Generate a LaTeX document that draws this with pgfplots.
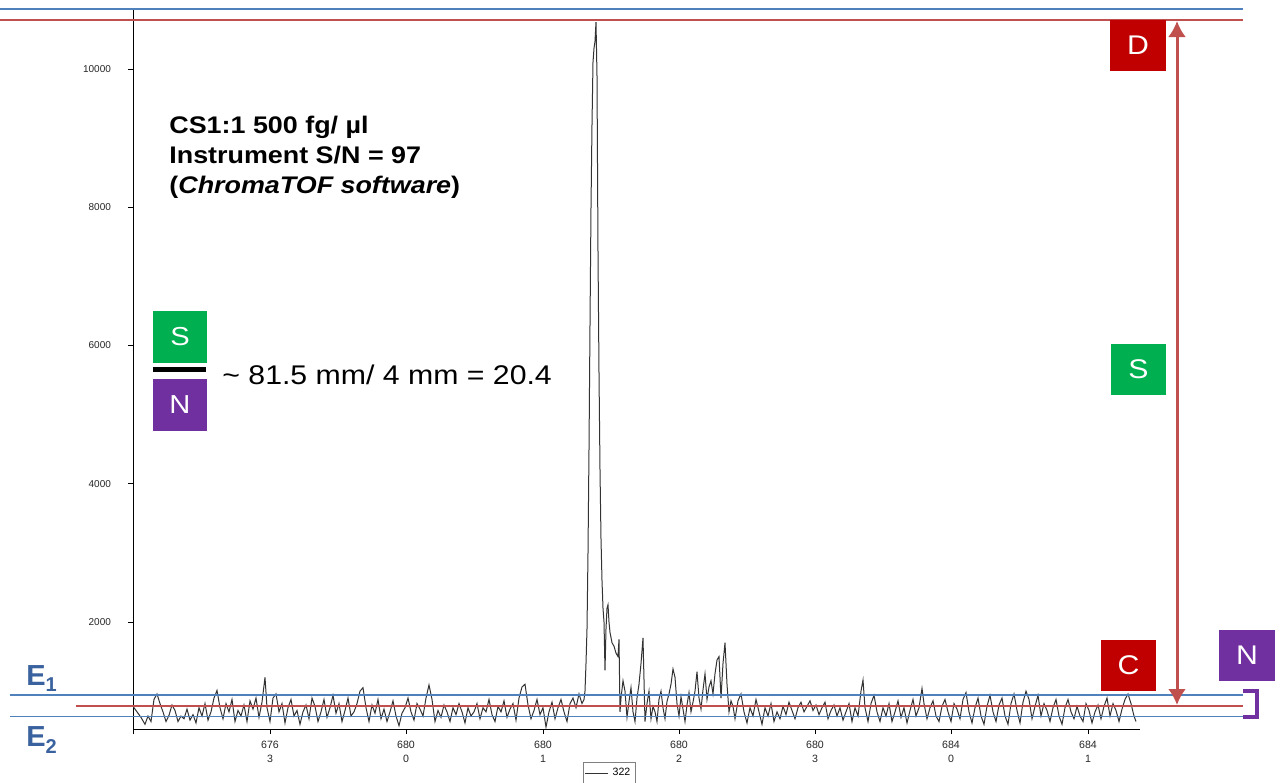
\documentclass[border=0pt]{standalone}
\usepackage{fontspec}
\setmainfont{Liberation Sans}
\newfontfamily\wide[FakeStretch=1.12]{Liberation Sans}
\usepackage{pgfplots}
\pgfplotsset{compat=1.18}
\usetikzlibrary{arrows.meta}
\definecolor{lblue}{HTML}{4F81BD}
\definecolor{lred}{HTML}{C0504D}
\definecolor{dred}{HTML}{C00000}
\definecolor{sgreen}{HTML}{00B050}
\definecolor{npurp}{HTML}{7030A0}
\definecolor{elab}{RGB}{58,98,158}
\begin{document}
\begin{tikzpicture}
\useasboundingbox (0,0) rectangle (640pt,-391pt);
\begin{axis}[
 at={(66.5pt,-364.5pt)}, anchor=south west,
 scale only axis, width=503.5pt, height=359.5pt,
 xmin=133, xmax=1140, ymin=452, ymax=10854,
 scaled y ticks=false, scaled x ticks=false,
 axis lines=left, axis line style={-, black, line width=0.5pt},
 tick align=outside, major tick length=2.5pt, tick style={black, line width=0.5pt},
 xtick={133,270,406,543,679,815,951,1088},
 xticklabels={{},{676\\3},{680\\0},{680\\1},{680\\2},{680\\3},{684\\0},{684\\1}},
 xticklabel style={align=center, font=\fontsize{5.3}{7}\selectfont, text=black!85},
 ytick={2000,4000,6000,8000,10000},
 yticklabels={2000,4000,6000,8000,10000},
 yticklabel style={font=\fontsize{5}{6}\selectfont, xshift=-5pt, text=black!85},
 legend style={at={(0.4732,-0.0612)}, anchor=center, font=\fontsize{5.3}{6}\selectfont, draw=black!50, inner sep=0.5pt},
 legend image code/.code={\draw[#1] (0pt,0pt) -- (11.5pt,0pt);},
]
\addplot[black!80, line width=0.5pt] coordinates {
(133,780)(137,700)(141,620)(145,520)(148,640)(151,560)(154,880)(157,960)(160,820)(163,700)
(166,560)(169,650)(172,800)(175,720)(178,560)(181,640)(184,600)(187,740)(190,580)(193,660)
(196,540)(199,760)(202,640)(205,820)(208,580)(211,700)(214,900)(217,1010)(220,760)(223,600)
(226,820)(229,700)(232,880)(235,560)(238,720)(241,640)(244,800)(247,560)(250,860)(253,740)
(256,900)(259,620)(262,840)(265,1200)(267,760)(270,560)(273,900)(276,960)(279,700)(282,820)
(285,540)(288,760)(291,880)(294,640)(297,720)(300,520)(303,700)(306,800)(309,600)(312,900)
(315,780)(318,560)(321,700)(324,880)(327,620)(330,760)(333,940)(336,680)(339,820)(342,560)
(345,720)(348,900)(351,640)(354,700)(357,820)(360,1000)(363,1050)(366,760)(369,560)(372,800)
(375,680)(378,880)(381,600)(384,740)(387,560)(390,700)(393,860)(396,640)(399,500)(402,680)
(405,760)(408,900)(411,700)(414,580)(417,820)(420,740)(423,640)(426,900)(429,1090)(432,880)
(435,560)(438,720)(441,620)(444,800)(447,700)(450,560)(453,760)(456,660)(459,820)(462,700)
(465,540)(468,760)(471,640)(474,700)(477,820)(480,600)(483,760)(486,700)(489,880)(492,660)
(495,560)(498,780)(501,700)(504,860)(507,620)(510,740)(513,820)(516,580)(519,900)(522,1060)
(525,1100)(528,800)(531,600)(534,720)(537,880)(540,660)(543,760)(546,480)(549,700)(552,840)
(555,600)(558,760)(561,880)(564,700)(567,560)(570,820)(573,900)(576,760)(579,960)(582,820)
(584,880)(585,1000)(586,1400)(587,1900)(588,3000)(589,4500)(590,6300)(591,8000)(592,9200)
(593,10100)(594,10300)(595,10400)(596,10680)(597,9900)(598,7350)(599,5600)(600,4200)(601,3200)
(602,2600)(603,2200)(604,2000)(605,1300)(606,1900)(607,2200)(608,2250)(609,2000)(610,1850)
(612,1700)(614,1650)(616,1550)(618,1500)(619,1750)(620,700)
(621,900)(623,1150)(625,1000)(627,620)(629,850)(631,1050)(633,700)(635,560)(637,900)(639,1100)
(641,1400)(643,1770)(645,560)(647,820)(649,1000)(651,600)(653,780)(655,700)(657,560)(659,880)
(661,1000)(663,760)(665,600)(667,850)(669,960)(671,1100)(673,1320)(675,1200)(677,820)(679,640)
(681,920)(683,740)(685,560)(687,800)(689,980)(691,700)(693,840)(695,1000)(697,1280)(699,900)
(701,740)(703,1020)(705,1250)(707,880)(709,1060)(711,1150)(713,960)(715,1250)(717,1450)(719,1500)
(721,900)(723,1400)(725,1700)(727,1100)(729,700)(731,860)(733,780)(735,600)(738,860)(741,960)
(744,700)(747,540)(750,760)(753,640)(756,880)(759,700)(762,520)(765,760)(768,640)(771,820)
(774,560)(777,700)(780,600)(783,780)(786,660)(789,840)(792,720)(795,600)(798,760)(801,840)
(804,700)(807,780)(810,860)(813,720)(816,800)(819,660)(822,760)(825,840)(828,600)(831,720)
(834,800)(837,640)(840,760)(843,580)(846,700)(849,820)(852,560)(855,760)(858,640)(861,1000)
(863,1160)(865,760)(868,560)(871,820)(874,940)(877,700)(880,560)(883,760)(886,640)(889,820)
(892,560)(895,700)(898,860)(901,620)(904,760)(907,540)(910,720)(913,880)(916,640)(919,760)
(922,1040)(924,820)(927,600)(930,760)(933,860)(936,640)(939,560)(942,780)(945,880)(948,700)
(951,560)(954,820)(957,740)(960,600)(963,880)(966,980)(969,700)(972,540)(975,760)(978,900)
(981,640)(984,520)(987,780)(990,940)(993,700)(996,560)(999,800)(1002,900)(1005,640)(1008,520)
(1011,820)(1014,960)(1017,720)(1020,540)(1023,840)(1026,1000)(1029,880)(1032,600)(1035,780)(1038,940)
(1041,640)(1044,820)(1047,720)(1050,560)(1053,760)(1056,880)(1059,640)(1062,520)(1065,760)(1068,880)
(1071,700)(1074,600)(1077,780)(1080,640)(1083,560)(1086,820)(1089,720)(1092,540)(1095,700)(1098,800)
(1101,600)(1104,780)(1107,900)(1110,640)(1113,820)(1116,720)(1119,560)(1122,740)(1125,880)(1128,960)
(1131,820)(1134,640)(1136,560)
};
\addlegendentry{322}
\node[anchor=north east, align=right, font=\fontsize{5.3}{7}\selectfont, text=black!85, inner sep=0pt] at (rel axis cs:0,0) [yshift=-4.6pt] {1st Time (s)\\2nd Time (s)};
\end{axis}
\begin{scope}[x=0.5pt, y=-0.5pt]
\draw[lblue, line width=1pt] (0,9) -- (1243,9);
\draw[lred, line width=1.3pt] (0,20) -- (1243,20);
\draw[lblue, line width=1pt] (10,695) -- (1243,695);
\draw[lred, line width=1.2pt] (76,706) -- (1243,706);
\draw[lblue, line width=0.8pt] (10,716.5) -- (1243,716.5);
\draw[lred, line width=1.5pt, {Latex[length=8pt,width=9pt]}-{Latex[length=8pt,width=9pt]}] (1177,21) -- (1177,705);
\draw[npurp, line width=2pt] (1243,691) -- (1257,691) -- (1257,717) -- (1243,717);
% boxes
\fill[dred] (1110,20) rectangle (1166,71);
\node[text=white, font=\wide\fontsize{13.5}{14}\selectfont] at (1138,45.5) {D};
\fill[sgreen] (1111,344) rectangle (1166,395);
\node[text=white, font=\wide\fontsize{13.5}{14}\selectfont] at (1138.5,369.5) {S};
\fill[dred] (1101,640) rectangle (1156,691);
\node[text=white, font=\wide\fontsize{13.5}{14}\selectfont] at (1128.5,665.5) {C};
\fill[npurp] (1219,630) rectangle (1275,681);
\node[text=white, font=\wide\fontsize{13.5}{14}\selectfont] at (1247,655.5) {N};
\fill[sgreen] (153,311) rectangle (207,363);
\node[text=white, font=\wide\fontsize{13}{14}\selectfont] at (180,337) {S};
\fill[black] (153,367) rectangle (206,372);
\fill[npurp] (153,379) rectangle (207,431);
\node[text=white, font=\wide\fontsize{13}{14}\selectfont] at (180,405) {N};
% texts
\node[anchor=base west, inner sep=0pt, font=\wide\fontsize{13.5}{14}\selectfont] at (222,384) {\textasciitilde{} 81.5 mm/ 4 mm = 20.4};
\node[anchor=base west, inner sep=0pt, font=\wide\bfseries\fontsize{12}{14}\selectfont] at (169,133) {CS1:1 500 fg/ µl};
\node[anchor=base west, inner sep=0pt, font=\wide\bfseries\fontsize{12}{14}\selectfont] at (169,163) {Instrument S/N = 97};
\node[anchor=base west, inner sep=0pt, font=\wide\bfseries\fontsize{12}{14}\selectfont] at (169,193) {(\textit{ChromaTOF software})};
\node[anchor=base west, inner sep=0pt, text=elab, font=\bfseries\fontsize{14.5}{15}\selectfont] at (26,685) {E\raisebox{-3pt}{\fontsize{10}{10}\selectfont 1}};
\node[anchor=base west, inner sep=0pt, text=elab, font=\bfseries\fontsize{14.5}{15}\selectfont] at (26,746) {E\raisebox{-3.5pt}{\fontsize{10}{10}\selectfont 2}};
\end{scope}
\end{tikzpicture}
\end{document}
